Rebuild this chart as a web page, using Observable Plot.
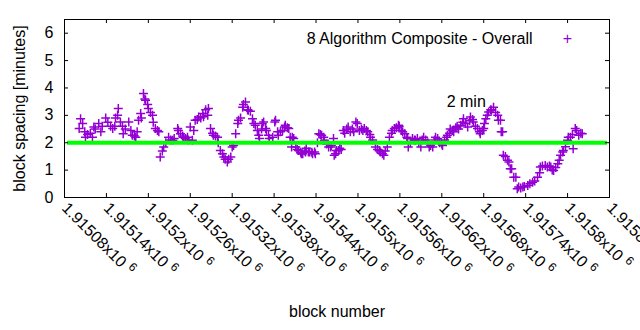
<!DOCTYPE html>
<html><head><meta charset="utf-8">
<script src="https://cdn.jsdelivr.net/npm/d3@7"></script>
<script src="https://cdn.jsdelivr.net/npm/@observablehq/plot@0.6"></script>
<style>body{margin:0;background:#fff;overflow:hidden}</style>
</head><body><div id="chart"></div>
<script>
const blocks = [
1915101,1915103,1915106,1915109,1915110,1915113,1915117,1915120,1915122,1915124,
1915129,1915132,1915134,1915139,1915142,1915146,1915149,1915152,1915153,1915156,
1915157,1915160,1915163,1915164,1915167,1915172,1915175,1915177,1915180,1915182,
1915184,1915186,1915189,1915190,1915193,1915195,1915196,1915199,1915200,1915203,
1915206,1915207,1915210,1915213,1915215,1915217,1915220,1915222,1915225,1915229,
1915232,1915235,1915237,1915242,1915243,1915246,1915249,1915250,1915253,1915256,
1915257,1915260,1915263,1915265,1915267,1915270,1915272,1915275,1915278,1915279,
1915282,1915285,1915286,1915289,1915292,1915293,1915296,1915299,1915300,1915303,
1915306,1915308,1915310,1915313,1915315,1915318,1915320,1915322,1915325,1915328,
1915329,1915332,1915335,1915336,1915339,1915342,1915343,1915346,1915349,1915351,
1915353,1915356,1915358,1915359,1915362,1915363,1915365,1915368,1915369,1915372,
1915373,1915378,1915381,1915382,1915385,1915386,1915389,1915392,1915395,1915396,
1915399,1915401,1915403,1915405,1915406,1915408,1915411,1915413,1915415,1915418,
1915419,1915421,1915424,1915425,1915426,1915429,1915431,1915434,1915435,1915438,
1915439,1915442,1915444,1915446,1915448,1915451,1915452,1915455,1915458,1915461,
1915462,1915465,1915466,1915468,1915469,1915472,1915474,1915476,1915479,1915481,
1915484,1915486,1915489,1915492,1915494,1915497,1915499,1915502,1915505,1915507,
1915509,1915512,1915514,1915517,1915518,1915521,1915525,1915528,1915531,1915532,
1915535,1915537,1915539,1915542,1915545,1915548,1915549,1915552,1915555,1915558,
1915559,1915562,1915564,1915567,1915570,1915571,1915572,1915575,1915578,1915581,
1915582,1915585,1915587,1915590,1915592,1915594,1915597,1915600,1915602,1915604,
1915607,1915610,1915611,1915614,1915617,1915620,1915621,1915624,1915627,1915628,
1915631,1915632,1915635,1915637,1915640,1915642,1915644,1915647,1915650,1915651,
1915654,1915657,1915660,1915661,1915664,1915665,1915668,1915671,1915674,1915675,
1915678,1915680,1915681,1915683,1915685,1915687,1915690,1915691,1915694,1915697,
1915700,1915701,1915704,1915705,1915707,1915708,1915711,1915714,1915716,1915718,
1915720,1915723,1915726,1915728,1915730,1915733,1915736,1915738,1915743,1915746,
1915750,1915753,1915757,1915760,1915761,1915764,1915768,1915771,1915774,1915776,
1915778,1915780,1915783,1915786,1915788,1915790,1915793,1915794,1915797,1915800,
1915801,1915804,1915807,1915808,1915811,1915813,1915816,1915819,1915821
];
const spacing = [
2.52,2.88,2.7,2.4,2.2,2.3,2.35,2.2,2.57,2.5,
2.7,2.4,2.6,2.9,2.75,2.6,2.52,2.6,2.9,3.0,
3.25,2.76,2.6,2.33,2.5,2.76,2.45,2.27,2.25,2.2,
2.4,2.82,3.07,2.9,3.8,3.6,3.55,3.4,3.25,3.1,
3.0,2.75,2.52,2.45,2.4,1.48,1.7,1.84,2.0,2.2,
2.1,2.09,2.15,2.52,2.45,2.33,2.25,2.2,2.15,2.2,
2.1,2.57,2.09,2.45,2.82,2.85,2.94,2.9,3.07,2.95,
3.2,3.0,3.25,2.52,2.35,2.27,2.25,2.2,2.0,1.72,
1.6,1.48,1.4,1.3,1.4,1.48,1.84,1.9,2.33,2.7,
2.82,2.9,3.3,3.4,3.49,3.2,3.19,3.15,2.88,2.7,
2.64,2.45,2.27,2.15,2.5,2.7,2.76,2.52,2.45,2.27,
2.15,2.2,2.76,2.82,2.4,2.27,2.4,2.45,2.57,2.64,
2.55,2.52,2.2,1.84,2.2,2.15,1.84,1.75,1.72,1.65,
1.6,1.6,1.7,1.66,1.8,1.66,1.66,1.65,1.6,1.66,
1.6,2.0,2.33,2.3,2.27,2.2,2.09,1.95,1.84,1.84,
1.9,2.15,1.54,1.6,1.72,1.72,1.8,1.75,2.45,2.35,
2.5,2.57,2.4,2.5,2.4,2.76,2.7,2.45,2.5,2.45,
2.52,2.45,2.4,2.3,2.2,2.1,1.84,1.75,1.72,1.66,
1.6,1.54,1.7,1.84,2.2,2.35,2.45,2.52,2.55,2.64,
2.6,2.45,2.4,2.33,2.2,2.15,1.84,2.0,2.15,2.1,
2.09,2.15,2.0,1.84,2.1,2.2,2.1,2.0,1.84,1.9,
1.84,2.1,2.2,2.15,2.0,1.95,1.9,2.1,2.2,2.27,
2.35,2.5,2.45,2.4,2.55,2.6,2.5,2.64,2.75,2.88,
2.7,2.57,2.8,2.94,2.85,2.76,2.6,2.52,2.4,2.33,
2.45,2.52,2.7,2.88,3.0,3.12,3.2,3.19,3.3,3.1,
3.0,2.82,2.82,2.4,2.4,1.54,1.5,1.36,1.3,1.05,
1.05,0.74,0.74,0.32,0.38,0.35,0.38,0.4,0.44,0.5,
0.56,0.6,0.74,0.9,1.11,1.15,1.17,1.11,1.15,1.11,
1.0,0.99,1.1,1.23,1.36,1.54,1.66,1.72,1.85,2.09,
2.2,2.2,2.3,1.78,2.52,2.45,2.27,2.35,2.33
];
const xTicks = [1915080,1915140,1915200,1915260,1915320,1915380,1915440,1915500,1915560,1915620,1915680,1915740,1915800,1915860];
const yTicks = [0,1,2,3,4,5,6];
const referenceLine = [2];
const seriesName = ["8 Algorithm Composite - Overall"];
const noteText = ["2 min"];
const noteBlock = [1915655];
const noteValue = [3.5];
const xLabel = ["block number"];
const yLabel = ["block spacing [minutes]"];

const data = blocks.map((b, i) => ({block: b, spacing: spacing[i]}));
const notes = noteText.map((t, i) => ({text: t, block: noteBlock[i], value: noteValue[i]}));
const plus = {draw(ctx) { const r = 4.5; ctx.moveTo(-r, 0); ctx.lineTo(r, 0); ctx.moveTo(0, -r); ctx.lineTo(0, r); }};
const fmt = d3.format(".6~g");
const purple = "#9400d3";

const chart = Plot.plot({
  width: 640, height: 330,
  marginLeft: 64, marginRight: 31, marginTop: 19, marginBottom: 133,
  style: {fontFamily: "'Liberation Sans', Arial, sans-serif", fontSize: "16px", color: "#000", background: "#fff", overflow: "hidden"},
  x: {domain: [1915080, 1915860]},
  y: {domain: [0, 6.5]},
  marks: [
    Plot.dot(data, {x: "block", y: "spacing", symbol: plus, fill: "none", stroke: purple, strokeWidth: 1.5}),
    Plot.ruleY(referenceLine, {y: d => d, stroke: "#00ff00", strokeWidth: 4, insetLeft: 3, insetRight: 2}),
    Plot.frame({stroke: "#000"}),
    Plot.tickX(xTicks, {x: d => d, insetTop: 174, stroke: "#000"}),
    Plot.tickX(xTicks, {x: d => d, insetBottom: 174, stroke: "#000"}),
    Plot.tickY(yTicks, {y: d => d, insetRight: 541, stroke: "#000"}),
    Plot.tickY(yTicks, {y: d => d, insetLeft: 541, stroke: "#000"}),
    Plot.axisX({ticks: xTicks, tickFormat: d => fmt(d / 1e6) + "x10", tickRotate: 45, tickSize: 0, tickPadding: 8, label: null}),
    Plot.axisY({ticks: yTicks, tickFormat: d => String(d), tickSize: 0, tickPadding: 11, label: null}),
    Plot.text(yLabel, {text: d => d, frameAnchor: "left", textAnchor: "middle", rotate: -90, dx: -45}),
    Plot.text(xLabel, {text: d => d, frameAnchor: "bottom", dy: 119}),
    Plot.text(seriesName, {text: d => d, frameAnchor: "top-right", textAnchor: "end", dx: -77, dy: 13}),
    Plot.text(["+"], {text: d => d, frameAnchor: "top-right", textAnchor: "middle", dx: -42, dy: 13, fill: purple}),
    Plot.text(notes, {x: "block", y: "value", text: "text"})
  ]
});
document.getElementById("chart").appendChild(chart);
d3.select(chart).selectAll('g[aria-label="x-axis tick label"] > text').each(function() {
  d3.select(this).append("tspan").attr("dx", 5).attr("dy", -6).attr("font-size", 12).text("6");
});
</script>
</body></html>
